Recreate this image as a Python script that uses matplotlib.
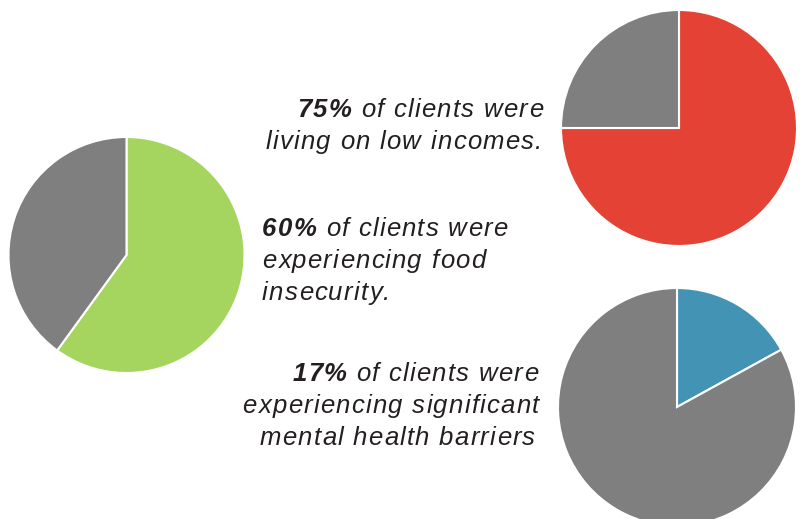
import matplotlib.pyplot as plt
from matplotlib import font_manager
from matplotlib.font_manager import FontProperties
from matplotlib.ft2font import FT2Font

plt.rcParams['font.family'] = ['Liberation Sans', 'DejaVu Sans']

# Share of clients in each group (percent); the rest of each pie is grey
food_insecure = 60
low_income = 75
mental_health = 17

colors = {"food": "#a5d55f", "income": "#e34234", "mental": "#4393b4"}
grey = "#7f7f7f"
text_color = "#231f20"

W, H = 804, 519
DPI = 100
fig = plt.figure(figsize=(W / DPI, H / DPI), dpi=DPI)


def pie_at(cx, cy, r, value, color):
    # square axes placed in pixel coordinates (y measured from the top)
    ax = fig.add_axes([(cx - r) / W, 1 - (cy + r) / H, 2 * r / W, 2 * r / H])
    ax.pie([value, 100 - value], colors=[color, grey], startangle=90,
           counterclock=False, radius=1,
           wedgeprops=dict(edgecolor="white", linewidth=1.5))
    ax.set_xlim(-1, 1)
    ax.set_ylim(-1, 1)
    ax.set_aspect("equal")
    ax.axis("off")
    for w in ax.patches:
        w.set_clip_on(False)
    return ax


pie_at(126.5, 255, 118, food_insecure, colors["food"])
pie_at(679, 128, 118, low_income, colors["income"])
pie_at(677, 407, 119, mental_health, colors["mental"])

FS = 18.5      # points
TRACK = 1.25   # extra letter spacing, pixels

fonts = {}
for wt in ("normal", "bold"):
    path = font_manager.findfont(FontProperties(family="Liberation Sans",
                                                style="italic", weight=wt))
    f = FT2Font(path)
    f.set_size(FS, DPI)
    fonts[wt] = f


def advance(ch, wt):
    g = fonts[wt].load_char(ord(ch))
    return g.linearHoriAdvance / 65536


def line(x, y, parts, ha):
    # parts: list of (text, weight); letters are spaced out a little
    chars = [(c, wt) for s, wt in parts for c in s]
    advs = [advance(c, wt) for c, wt in chars]
    total = sum(advs) + TRACK * (len(chars) - 1)
    pos = x - total if ha == "right" else x
    for (c, wt), a in zip(chars, advs):
        if c != " ":
            fig.text(pos / W, 1 - y / H, c, ha="left", va="baseline",
                     fontsize=FS, style="italic", weight=wt, color=text_color)
        pos += a + TRACK


line(543, 117, [("75%", "bold"), (" of clients were", "normal")], "right")
line(542, 149, [("living on low incomes.", "normal")], "right")

line(262, 236, [("60%", "bold"), (" of clients were", "normal")], "left")
line(262, 268, [("experiencing food", "normal")], "left")
line(262, 300, [("insecurity.", "normal")], "left")

line(538, 381, [("17%", "bold"), (" of clients were", "normal")], "right")
line(539, 413, [("experiencing significant", "normal")], "right")
line(535, 445, [("mental health barriers", "normal")], "right")

fig.savefig("out.png", dpi=DPI)
